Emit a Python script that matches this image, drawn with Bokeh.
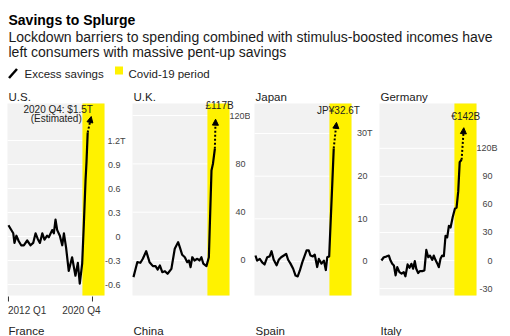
from bokeh.plotting import figure
from bokeh.models import Range1d, Label, Arrow, NormalHead
from bokeh.layouts import column, row
from bokeh.core.properties import value
from bokeh.embed import file_html
from bokeh.resources import INLINE

FONT = "Liberation Sans"
YELLOW = "#fff200"
BG = "#f2f2f2"

# ---------------- data (time in quarters since 2012 Q1) ----------------
title = "Savings to Splurge"
subtitle = ["Lockdown barriers to spending combined with stimulus-boosted incomes have",
            "left consumers with massive pent-up savings"]
legend_labels = ["Excess savings", "Covid-19 period"]
x_tick_pos = [0, 35]
x_tick_labels = ["2012 Q1", "2020 Q4"]
covid_start = 30.8
row2_names = ["France", "China", "Spain", "Italy"]

us_t = [0, 2.0, 2.5, 3.3, 4.3, 5.3, 6.4, 7.8, 9.2, 10.3, 11.3, 12.2, 13.1, 14.1, 15.0,
        16.1, 16.8, 18.2, 18.9, 19.6, 20.3, 21.4, 22.4, 23.1, 24.0, 25.1, 26.5, 27.9,
        28.9, 29.7, 30.7, 31.4, 32.1, 32.5, 33.0]
us_v = [0.14, 0.04, -0.08, 0.01, -0.06, -0.11, -0.11, -0.05, -0.11, -0.08, 0.04, -0.03,
        -0.08, 0.04, -0.04, 0.01, -0.01, 0.08, 0.04, 0.21, 0.08, 0.01, -0.11, 0.04, -0.14,
        -0.43, -0.26, -0.49, -0.33, -0.59, -0.34, 0.16, 0.70, 0.93, 1.30]
us_est = (34.46, 1.5)
us_note = ["2020 Q4: $1.5T", "(Estimated)"]
us_ticks = [-0.6, -0.3, 0, 0.3, 0.6, 0.9, 1.2]
us_tick_labels = ["-0.6", "-0.3", "0", "0.3", "0.6", "0.9", "1.2T"]

uk_t = [0, 1.6, 2.9, 3.9, 5.3, 6.7, 8.1, 9.2, 10.1, 11.0, 12.0, 13.1, 14.2, 15.8, 17.2,
        18.6, 19.3, 20.3, 21.4, 22.4, 23.1, 23.8, 24.5, 25.4, 26.6, 27.5, 28.3, 29.1,
        30.4, 31.4, 32.5, 33.1, 33.9]
uk_v = [-13.8, -1.4, -1.9, 1.4, 7.7, -1.4, -4.7, -4.7, -7.5, -4.1, -9.7, -8.9, -11.0,
        -6.9, 9.7, 15.2, 11.0, 4.7, 2.7, -1.4, 0.0, -5.5, 2.7, 0.0, 1.4, 0.0, 2.7, -2.7,
        -4.7, 2.7, 74.5, 80.0, 92.5]
uk_est = (34.2, 117)
uk_note = ["£117B"]
uk_ticks = [0, 40, 80, 120]
uk_tick_labels = ["0", "40", "80", "120B"]

jp_t = [0, 0.7, 1.8, 2.8, 3.8, 4.9, 5.9, 6.7, 7.6, 8.8, 9.7, 10.7, 11.8, 12.8, 13.6,
        14.6, 15.7, 16.7, 17.6, 18.5, 19.5, 20.4, 21.3, 22.2, 22.9, 23.9, 24.7, 25.7,
        26.4, 27.5, 28.5, 29.3, 29.9, 30.7, 32.0, 32.6]
jp_v = [1.4, 0.2, 0.6, -0.2, -0.7, 1.0, 1.2, 2.4, 0.4, -0.9, 0.4, 1.0, 1.4, 1.8, 0.4,
        -0.5, -1.7, -3.3, -3.5, -2.1, -0.2, 1.2, 2.6, 2.6, 1.4, 1.2, 1.6, -1.3, 0.6,
        -0.5, 0.2, -2.0, 1.0, 1.2, 18.3, 26.5]
jp_est = (33.75, 32.6)
jp_note = ["JP¥32.6T"]
jp_ticks = [0, 10, 20, 30]
jp_tick_labels = ["0", "10", "20", "30T"]

de_t = [0.4, 1.4, 2.4, 3.5, 4.2, 4.9, 5.6, 6.3, 7.0, 7.9, 8.8, 9.7, 10.4, 11.3, 12.1,
        12.9, 13.6, 14.3, 14.9, 15.7, 16.4, 17.4, 18.3, 19.1, 19.9, 20.6, 21.6, 22.2,
        22.9, 23.6, 24.3, 25.0, 25.7, 26.4, 27.1, 27.8, 28.5, 29.2, 30.1, 31.0, 31.7,
        32.4, 33.0, 33.8]
de_v = [0, 3.5, 4.2, 5.3, 0, -3.5, -5.3, -15.9, -7.1, -12.4, -14.1, -12.4, -16.9, -4.2,
        -7.8, -3.5, -8.8, -0.7, -8.8, -13.4, -11.3, -11.3, -10.6, 11.3, 3.5, 5.3, 0.7,
        5.3, 0.7, -2.8, -7.1, 1.8, 5.3, 4.6, 26.5, 24.7, 37.1, 35.3, 46.6, 55.4, 56.5,
        74.2, 105.2, 107.7]
de_est = (34.7, 142)
de_note = ["€142B"]
de_ticks = [-30, 0, 30, 60, 90, 120]
de_tick_labels = ["-30", "0", "30", "60", "90", "120B"]

# ---------------- layout constants (pixels) ----------------
X_START, X_END = -0.4, 40.0
FRAME_W = 97
FRAME_H = 192
PANEL_H = 251
TOP_B, BOT_B = 18, 41


def make_panel(name, t, v, est, note, note_offsets, ticks, tick_labels, y_lim,
               width, left, next_name, with_xaxis=False):
    ymin, ymax = y_lim
    sx = (X_END - X_START) / FRAME_W
    ky = (ymax - ymin) / FRAME_H
    xr = Range1d(X_START - left * sx, X_END + (width - left - FRAME_W) * sx)
    yr = Range1d(ymin - BOT_B * ky, ymax + TOP_B * ky)
    p = figure(width=width, height=PANEL_H, output_backend="svg", toolbar_location=None,
               x_axis_type=None, y_axis_type=None, title_location=None,
               x_range=xr, y_range=yr, min_border=0)
    p.background_fill_color = "white"
    p.border_fill_color = "white"
    p.outline_line_color = None

    # plot area, grid, covid band
    p.quad(left=[X_START], right=[X_END], bottom=[ymin], top=[ymax],
           fill_color=BG, line_color=None)
    p.segment(x0=X_START, x1=X_END, y0=ticks, y1=ticks, line_color="white", line_width=1)
    p.quad(left=[covid_start], right=[X_END], bottom=[ymin], top=[ymax],
           fill_color=YELLOW, line_color=None)

    # series + estimate
    p.line(t, v, line_color="black", line_width=2.2, line_join="round")
    p.add_layout(Arrow(end=NormalHead(size=6, fill_color="black", line_color="black",
                                      line_width=1),
                       x_start=t[-1], y_start=v[-1], x_end=est[0], y_end=est[1],
                       line_color="black", line_width=2, line_dash="2 2"))
    for txt, (dx, dy) in zip(note, note_offsets):
        p.add_layout(Label(x=est[0], y=est[1], x_offset=dx, y_offset=dy, text=txt,
                           text_align="center", text_baseline="middle",
                           text_font=FONT, text_font_size="10px", text_color="#222222"))

    # y tick labels (suffix hangs to the right)
    for tk, lab in zip(ticks, tick_labels):
        suffix = lab[-1].isalpha()
        p.add_layout(Label(x=X_END, y=tk, x_offset=16 + (5 if suffix else 0), text=lab,
                           text_align="right", text_baseline="middle",
                           text_font=FONT, text_font_size="9px", text_color="#444444"))

    # panel title and the next row's title
    p.add_layout(Label(x=left + 1, y=PANEL_H - 11.5, x_units="screen", y_units="screen",
                       text=name, text_align="left", text_baseline="alphabetic",
                       text_font=FONT, text_font_size="11.5px", text_color="#222222"))
    p.add_layout(Label(x=left + 1, y=6, x_units="screen", y_units="screen",
                       text=next_name, text_align="left", text_baseline="alphabetic",
                       text_font=FONT, text_font_size="11.5px", text_color="#222222"))

    if with_xaxis:
        p.segment(x0=x_tick_pos, x1=x_tick_pos, y0=ymin - 1 * ky, y1=ymin - 6 * ky,
                  line_color="#333333", line_width=1)
        aligns = ["left", "right"]
        offs = [-0.5, 8]
        for pos, lab, al, dx in zip(x_tick_pos, x_tick_labels, aligns, offs):
            p.add_layout(Label(x=pos, y=ymin, y_offset=-15, x_offset=dx, text=lab,
                               text_align=al, text_baseline="alphabetic",
                               text_font=FONT, text_font_size="10px",
                               text_color="#333333"))
    return p


p_us = make_panel("U.S.", us_t, us_v, us_est, us_note, [(-33, 7), (-35, -2)],
                  us_ticks, us_tick_labels, (-0.7375, 1.6625), 126, 7, row2_names[0],
                  with_xaxis=True)
p_uk = make_panel("U.K.", uk_t, uk_v, uk_est, uk_note, [(4, 14)],
                  uk_ticks, uk_tick_labels, (-29.0, 130.0), 124, 6, row2_names[1])
p_jp = make_panel("Japan", jp_t, jp_v, jp_est, jp_note, [(2, 12)],
                  jp_ticks, jp_tick_labels, (-7.97, 37.03), 125, 4, row2_names[2])
p_de = make_panel("Germany", de_t, de_v, de_est, de_note, [(2, 11)],
                  de_ticks, de_tick_labels, (-37.4, 167.9), 135, 4, row2_names[3])

# ---------------- header ----------------
h = figure(width=510, height=85, output_backend="svg", toolbar_location=None,
           x_axis_type=None, y_axis_type=None, title_location=None,
           x_range=Range1d(0, 510), y_range=Range1d(85, 0), min_border=0)
h.outline_line_color = None
h.background_fill_color = "white"
h.border_fill_color = "white"
h.text(x=[8], y=[19], text=[title], text_font=value(FONT), text_font_style="bold",
       text_font_size="14px", text_color="#000000", text_baseline="alphabetic")
h.text(x=[8, 8], y=[36, 51], text=subtitle, text_font=value(FONT),
       text_font_size="14px", text_color="#1a1a1a", text_baseline="alphabetic")
h.line([8.5, 16.5], [77.5, 68.5], line_color="black", line_width=2.5)
h.rect(x=[118.5], y=[70], width=8, height=8, fill_color=YELLOW, line_color=None)
h.text(x=[24, 128], y=[73.5, 73.5], text=legend_labels, text_font=value(FONT),
       text_font_size="11.5px", text_color="#222222", text_baseline="alphabetic")

layout = column(h, row(p_us, p_uk, p_jp, p_de))
open("out.html", "w").write(file_html(layout, INLINE))
